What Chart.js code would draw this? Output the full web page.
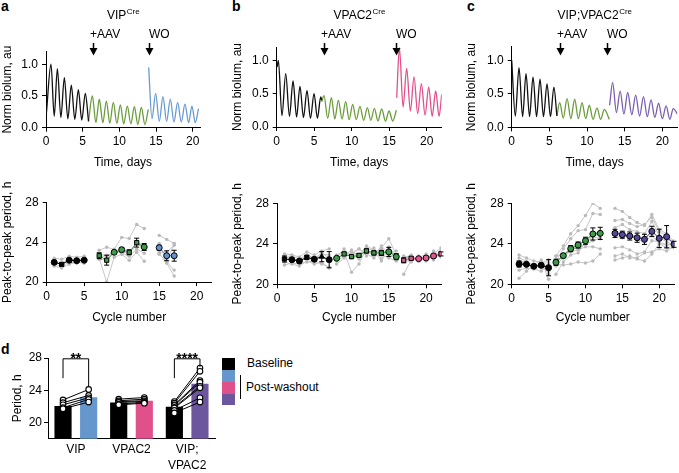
<!DOCTYPE html>
<html lang="en">
<head>
<meta charset="UTF-8">
<title>VIP / VPAC2 rescue of SCN period</title>
<script src="https://cdn.jsdelivr.net/npm/chart.js"></script>
<style>
  body { margin: 0; background: #fff; font-family: "Liberation Sans", Arial, sans-serif; }
  #fig { position: relative; width: 679px; height: 473px; overflow: hidden; }
  #fig canvas, .abs { position: absolute; }
  .letter { font-weight: bold; font-size: 14px; line-height: 14px; }
  .leg { font-size: 12px; line-height: 14px; white-space: nowrap; }
</style>
</head>
<body>
<div id="fig">
  <div class="abs letter" style="left:1px;top:-1px">a</div>
  <div class="abs letter" style="left:232px;top:-1px">b</div>
  <div class="abs letter" style="left:467px;top:-1px">c</div>
  <div class="abs letter" style="left:1px;top:342px">d</div>

  <div class="abs" style="left:222px;top:358px;width:13px;height:12px;background:#000"></div>
  <div class="abs" style="left:222px;top:370px;width:13px;height:12px;background:#6596cc"></div>
  <div class="abs" style="left:222px;top:382px;width:13px;height:12px;background:#e0508a"></div>
  <div class="abs" style="left:222px;top:394px;width:13px;height:11px;background:#6c569e"></div>
  <div class="abs" style="left:240px;top:375px;width:1px;height:24px;background:#000"></div>
  <div class="abs leg" style="left:247px;top:356px">Baseline</div>
  <div class="abs leg" style="left:246px;top:380px">Post-washout</div>
</div>
<script>
// ---------- top row: bioluminescence traces (peaks / troughs, days) ----------
const DAY_TICKS = [0, 5, 10, 15, 20];
const LUM_TICKS = [0, 0.5, 1.0];
const EVENT_LABELS = ['+AAV', 'WO'];

const A_BLACK_DAYS = [0.05, 0.68, 1.12, 1.55, 2.03, 2.5, 2.98, 3.45, 3.93, 4.41, 4.88, 5.36, 5.8];
const A_BLACK_LUM  = [0.22, 1.0, 0.18, 0.93, 0.16, 0.79, 0.14, 0.67, 0.13, 0.6, 0.12, 0.54, 0.1];
const A_GREEN_DAYS = [5.8, 6.32, 6.8, 7.27, 7.75, 8.23, 8.7, 9.18, 9.66, 10.14, 10.6, 11.09, 11.57, 12.05, 12.52, 13.0, 13.48, 13.95];
const A_GREEN_LUM  = [0.1, 0.5, 0.08, 0.45, 0.08, 0.42, 0.07, 0.4, 0.07, 0.36, 0.06, 0.34, 0.06, 0.33, 0.05, 0.32, 0.05, 0.29];
const A_BLUE_DAYS  = [14.0, 14.45, 14.95, 15.45, 15.95, 16.45, 16.95, 17.45, 17.95, 18.45, 18.95, 19.45, 19.9, 20.35, 20.8];
const A_BLUE_LUM   = [0.95, 0.14, 0.54, 0.1, 0.49, 0.1, 0.45, 0.09, 0.4, 0.09, 0.37, 0.08, 0.34, 0.08, 0.3];
const A_EVENTS = [6.4, 14.0];

const B_BLACK_DAYS = [0.05, 0.22, 0.7, 1.2, 1.7, 2.18, 2.65, 3.1, 3.57, 4.04, 4.5, 4.98, 5.43, 5.87, 6.0];
const B_BLACK_LUM  = [0.9, 1.0, 0.17, 0.8, 0.16, 0.69, 0.15, 0.61, 0.14, 0.55, 0.13, 0.5, 0.13, 0.45, 0.4];
const B_GREEN_DAYS = [6.0, 6.31, 6.8, 7.29, 7.75, 8.22, 8.71, 9.2, 9.66, 10.13, 10.61, 11.1, 11.6, 12.09, 12.55, 13.02, 13.5, 14.0, 14.5, 14.98, 15.47, 15.96];
const B_GREEN_LUM  = [0.38, 0.47, 0.13, 0.44, 0.12, 0.4, 0.12, 0.38, 0.11, 0.34, 0.11, 0.31, 0.1, 0.29, 0.1, 0.28, 0.09, 0.27, 0.09, 0.24, 0.09, 0.25];
const B_PINK_DAYS  = [16.0, 16.36, 16.85, 17.33, 17.82, 18.31, 18.8, 19.29, 19.78, 20.27, 20.73, 21.2, 21.65, 22.0];
const B_PINK_LUM   = [0.44, 1.19, 0.3, 0.88, 0.24, 0.75, 0.2, 0.65, 0.18, 0.6, 0.16, 0.54, 0.16, 0.49];
const B_EVENTS = [6.35, 15.9];

const C_BLACK_DAYS  = [0.0, 0.48, 0.97, 1.45, 1.9, 2.37, 2.83, 3.3, 3.76, 4.22, 4.69, 5.15, 5.6, 6.0];
const C_BLACK_LUM   = [1.0, 0.17, 0.89, 0.16, 0.8, 0.16, 0.75, 0.16, 0.72, 0.16, 0.65, 0.16, 0.6, 0.17];
const C_GREEN_DAYS  = [6.0, 6.37, 6.85, 7.35, 7.85, 8.36, 8.85, 9.34, 9.83, 10.31, 10.8, 11.33, 11.8, 12.3, 12.96];
const C_GREEN_LUM   = [0.17, 0.37, 0.14, 0.43, 0.13, 0.42, 0.13, 0.37, 0.13, 0.33, 0.12, 0.29, 0.12, 0.27, 0.12];
const C_PURPLE_DAYS = [13.0, 13.4, 13.9, 14.4, 14.9, 15.4, 15.95, 16.46, 16.98, 17.5, 18.0, 18.5, 19.0, 19.5, 20.0, 20.5, 21.0, 21.45, 22.0];
const C_PURPLE_LUM  = [0.33, 0.67, 0.22, 0.54, 0.2, 0.52, 0.19, 0.48, 0.17, 0.46, 0.16, 0.41, 0.15, 0.36, 0.13, 0.32, 0.12, 0.28, 0.2];
const C_EVENTS = [6.4, 12.65];

// ---------- middle row: peak-to-peak period per cycle ----------
const CYCLE_TICKS = [0, 5, 10, 15, 20];
const PERIOD_TICKS = [20, 24, 28];

const A_CYC_BASE = [1, 2, 3, 4, 5];
const A_MEAN_BASE = [21.98, 21.78, 22.2, 22.15, 22.2];
const A_SEM_BASE = [0.15, 0.15, 0.15, 0.12, 0.12];
const A_GREY_BASE = [
  [22.4, 22.3, 22.6, 22.5, 22.6],
  [21.8, 21.6, 22.0, 21.9, 22.2],
  [21.6, 21.4, 21.8, 22.0, 21.9],
  [22.0, 21.9, 22.3, 22.1, 22.0],
  [22.1, 21.7, 22.3, 22.3, 22.3]
];
const A_CYC_AAV = [7, 8, 9, 10, 11, 12, 13];
const A_MEAN_AAV = [22.65, 22.2, 23.0, 23.26, 23.0, 23.97, 23.53];
const A_SEM_AAV = [0.3, 0.5, 0.15, 0.2, 0.25, 0.45, 0.35];
const A_GREY_AAV = [
  [23.2, 23.5, 23.3, 24.5, 24.4, 25.8, 25.4],
  [22.4, 20.0, 22.5, 22.8, 22.2, 23.0, 22.1],
  [22.6, 22.6, 23.0, 23.0, 22.9, 23.8, 23.5],
  [22.3, 22.2, 23.2, 22.9, 22.6, 23.3, 22.9],
  [22.75, 22.7, 23.0, 23.1, 22.9, 23.95, 23.75]
];
const A_CYC_WO = [15, 16, 17];
const A_MEAN_WO = [23.46, 22.65, 22.65];
const A_SEM_WO = [0.25, 0.5, 0.55];
const A_GREY_WO = [
  [24.7, 24.3, 23.9],
  [23.9, 22.0, 21.2],
  [23.0, 23.0, 23.7],
  [22.9, 21.9, 20.6],
  [22.8, 22.05, 23.85]
];

const B_CYC_BASE = [1, 2, 3, 4, 5, 6, 7];
const B_MEAN_BASE = [22.5, 22.43, 22.3, 22.66, 22.47, 22.73, 22.43];
const B_SEM_BASE = [0.3, 0.15, 0.15, 0.2, 0.15, 0.5, 0.8];
const B_GREY_BASE = [
  [23.0, 22.9, 22.7, 23.2, 22.9, 23.3, 23.5],
  [22.2, 22.0, 21.8, 22.3, 22.0, 22.2, 21.6],
  [22.6, 22.8, 22.5, 22.9, 22.6, 23.0, 22.9],
  [21.9, 22.1, 22.0, 22.2, 22.3, 22.0, 21.7],
  [22.8, 22.4, 22.4, 22.7, 22.5, 23.1, 22.6],
  [22.5, 22.4, 22.4, 22.7, 22.5, 22.8, 22.3]
];
const B_CYC_AAV = [8, 9, 10, 11, 12, 13, 14, 15, 16];
const B_MEAN_AAV = [22.57, 23.0, 22.73, 22.86, 23.3, 23.1, 23.1, 23.2, 22.73];
const B_SEM_AAV = [0.15, 0.15, 0.15, 0.15, 0.2, 0.2, 0.25, 0.45, 0.3];
const B_GREY_AAV = [
  [22.9, 23.2, 21.2, 22.0, 23.6, 23.3, 22.3, 23.5, 22.6],
  [22.0, 22.6, 23.1, 23.5, 23.0, 22.6, 23.6, 24.5, 22.9],
  [22.6, 23.5, 22.6, 22.8, 23.8, 23.4, 22.9, 22.6, 22.3],
  [22.3, 22.8, 23.4, 22.5, 23.3, 22.8, 23.8, 23.0, 23.3],
  [22.8, 23.2, 22.9, 23.5, 22.8, 23.6, 22.5, 23.7, 22.5],
  [22.8, 22.7, 23.2, 22.9, 23.3, 22.9, 23.5, 22.9, 22.8]
];
const B_CYC_WO = [17, 18, 19, 20, 21, 22];
const B_MEAN_WO = [22.37, 22.57, 22.53, 22.6, 22.8, 23.0];
const B_SEM_WO = [0.25, 0.15, 0.1, 0.1, 0.15, 0.2];
const B_GREY_WO = [
  [21.0, 22.4, 22.8, 22.5, 23.0, 23.6],
  [22.6, 22.9, 22.3, 22.8, 22.6, 23.3],
  [22.4, 22.2, 22.7, 22.3, 23.3, 22.7],
  [22.8, 22.6, 22.6, 23.0, 22.4, 23.1],
  [22.3, 22.7, 22.5, 22.4, 22.9, 22.8],
  [22.7, 22.6, 22.3, 22.6, 22.6, 23.3]
];

const C_CYC_BASE = [1, 2, 3, 4, 5];
const C_MEAN_BASE = [22.0, 21.97, 21.78, 21.88, 21.64];
const C_SEM_BASE = [0.3, 0.2, 0.15, 0.2, 0.8];
const C_GREY_BASE = [
  [22.9, 22.6, 22.3, 22.2, 21.0],
  [22.6, 22.3, 21.7, 22.1, 22.4],
  [21.4, 21.6, 21.5, 21.3, 22.1],
  [22.0, 21.8, 21.9, 21.6, 21.3],
  [20.6, 21.3, 21.9, 22.4, 20.5],
  [22.3, 22.2, 21.9, 21.7, 22.0],
  [21.9, 22.1, 21.6, 22.0, 21.4],
  [22.3, 21.9, 21.8, 21.7, 22.4]
];
const C_CYC_AAV = [6, 7, 8, 9, 10, 11, 12];
const C_MEAN_AAV = [22.17, 22.83, 23.52, 23.88, 24.3, 24.97, 25.03];
const C_SEM_AAV = [0.3, 0.2, 0.3, 0.3, 0.35, 0.6, 0.6];
const C_GREY_AAV = [
  [22.8, 23.8, 25.0, 25.8, 26.8, 28.0, 27.5],
  [22.3, 23.5, 24.5, 25.3, 25.4, 27.0, 26.9],
  [21.0, 22.2, 22.9, 23.1, 24.2, 24.8, 25.0],
  [22.5, 22.6, 23.5, 24.0, 24.3, 25.0, 25.2],
  [21.8, 22.7, 23.4, 23.7, 23.9, 24.3, 24.6],
  [22.2, 22.9, 23.6, 23.5, 24.0, 24.7, 24.5],
  [22.0, 21.9, 22.0, 22.2, 22.1, 22.3, 23.0],
  [22.8, 23.0, 23.2, 23.4, 23.7, 23.7, 23.5]
];
const C_CYC_WO = [14, 15, 16, 17, 18, 19, 20, 21, 22];
const C_MEAN_WO = [25.03, 24.9, 24.77, 24.6, 24.44, 25.23, 24.54, 24.7, 23.95];
const C_SEM_WO = [0.4, 0.35, 0.4, 0.45, 0.5, 0.5, 0.9, 1.1, 0.3];
const C_GREY_WO = [
  [27.5, 27.2, 26.6, 26.1, 25.8, 26.9, 25.4, 25.0, 24.2],
  [26.3, 26.4, 26.0, 25.7, 25.9, 26.6, 25.2, 24.8, 24.0],
  [25.6, 25.9, 25.4, 25.2, 25.0, 26.2, 24.8, 24.4, 24.3],
  [25.3, 25.0, 24.9, 24.7, 24.5, 25.3, 24.6, 24.2, 23.9],
  [24.8, 24.6, 24.8, 24.4, 24.2, 24.8, 24.0, 24.0, 23.8],
  [23.6, 23.7, 23.4, 23.0, 23.2, 24.3, 24.2, 23.8, 24.1],
  [22.8, 23.0, 22.6, 22.6, 23.1, 23.2, 23.5, 23.3, 23.7],
  [22.4, 22.6, 22.8, 22.5, 22.3, 23.0, 24.0, 23.6, 23.6]
];

// ---------- panel d: mean period, baseline vs post-washout ----------
const D_GROUPS = ['VIP', 'VPAC2', ['VIP;', 'VPAC2']];
const D_BASELINE = [22.05, 22.5, 21.95];
const D_POST = [23.15, 22.7, 24.8];
const D_PAIRS_BASE = [
  [22.8, 22.46, 22.2, 21.84, 21.7],
  [22.9, 22.7, 22.6, 22.5, 22.3, 22.2],
  [22.6, 22.4, 22.2, 22.1, 21.9, 21.8, 21.5, 21.2]
];
const D_PAIRS_POST = [
  [24.1, 23.36, 23.07, 22.87, 22.54],
  [23.1, 22.9, 22.7, 22.6, 22.5, 22.4],
  [26.76, 26.35, 25.2, 25.0, 24.5, 24.3, 23.07, 22.54]
];
const D_TICKS = [20, 24, 28];
const D_SIG_GROUPS = [0, 2];
const D_SIG_TEXT = ['**', '****'];
const D_SIG_LEGS = [[25.5, 24.5], [25.5, 26.9]];
const D_SIG_TOP = 27.9;

// ---------- colours ----------
const GREEN_TRACE = '#6b9c3c', BLUE_TRACE = '#6a9ad4', PINK_TRACE = '#e2508c', PURPLE_TRACE = '#7a5fae';
const GREEN_MARK = '#3c9a48', BLUE_MARK = '#5f93d3', PINK_MARK = '#e0588f', PURPLE_MARK = '#56489c';
const D_POST_COLORS = ['#6596cc', '#e0508a', '#6c569e'];

const FONT = '"Liberation Sans", Arial, sans-serif';
Chart.defaults.font.family = FONT;
Chart.defaults.font.size = 12;
Chart.defaults.color = '#000';

function makeCanvas(box) {
  const c = document.createElement('canvas');
  c.width = box.w; c.height = box.h;
  c.style.left = box.x + 'px'; c.style.top = box.y + 'px';
  document.getElementById('fig').appendChild(c);
  return c;
}

// padding so that the plot area lands at `area` (page coords)
function pad(box, area, yW, xH) {
  return {
    left: area.l - yW - box.x,
    top: area.t - box.y,
    right: box.x + box.w - area.r,
    bottom: box.y + box.h - area.b - xH
  };
}

function axisX(min, max, ticks, title, xH) {
  return {
    type: 'linear', min: min, max: max, bounds: 'data',
    afterBuildTicks: s => { s.ticks = ticks.map(v => ({ value: v })); },
    afterFit: s => { s.height = xH; },
    border: { color: '#000', width: 1 },
    grid: { drawOnChartArea: false, drawTicks: true, tickLength: 4, color: '#000' },
    ticks: { padding: 3, maxRotation: 0, callback: v => v },
    title: { display: true, text: title, padding: 0 }
  };
}

function axisY(min, max, ticks, fmt, title, yW, tickPad) {
  return {
    type: 'linear', min: min, max: max, bounds: 'data',
    afterBuildTicks: s => { s.ticks = ticks.map(v => ({ value: v })); },
    afterFit: s => { s.width = yW; },
    border: { color: '#000', width: 1 },
    grid: { drawOnChartArea: false, drawTicks: true, tickLength: 4, color: '#000' },
    ticks: { padding: tickPad, callback: fmt },
    title: { display: true, text: title, padding: 0 }
  };
}

// title, +AAV / WO arrows above the traces
const traceAnnot = {
  id: 'traceAnnot',
  afterDraw(chart, args, opts) {
    const { ctx, chartArea, scales: { x } } = chart;
    ctx.save();
    ctx.fillStyle = '#000'; ctx.strokeStyle = '#000';
    ctx.textBaseline = 'middle';
    ctx.font = '12px ' + FONT;
    const mainW = ctx.measureText(opts.title).width;
    ctx.font = '8px ' + FONT;
    const supW = ctx.measureText(opts.sup).width;
    const tx = (chartArea.left + chartArea.right) / 2 - (mainW + supW) / 2;
    ctx.font = '12px ' + FONT;
    ctx.fillText(opts.title, tx, 16);
    ctx.font = '8px ' + FONT;
    ctx.fillText(opts.sup, tx + mainW + 0.5, 11.5);
    ctx.font = '12px ' + FONT;
    opts.events.forEach((d, i) => {
      const px = Math.round(x.getPixelForValue(d)) + 0.5;
      ctx.fillText(EVENT_LABELS[i], px + (i === 0 ? -3.5 : -0.5), 35);
      ctx.lineWidth = 1.5;
      ctx.beginPath(); ctx.moveTo(px, 43); ctx.lineTo(px, 50); ctx.stroke();
      ctx.beginPath(); ctx.moveTo(px - 4, 48); ctx.lineTo(px + 4, 48); ctx.lineTo(px, 55.5); ctx.closePath(); ctx.fill();
    });
    ctx.restore();
  }
};

function traceChart(box, area, yW, xH, xMax, segs, annot) {
  return new Chart(makeCanvas(box), {
    type: 'line',
    data: {
      datasets: segs.map(s => ({
        data: s[0].map((d, i) => ({ x: d, y: s[1][i] })),
        borderColor: s[2], borderWidth: 1.3, pointRadius: 0,
        cubicInterpolationMode: 'monotone', fill: false
      }))
    },
    options: {
      responsive: false, animation: false,
      layout: { padding: pad(box, area, yW, xH) },
      plugins: { legend: { display: false }, tooltip: { enabled: false }, traceAnnot: annot },
      scales: {
        x: axisX(0, xMax, DAY_TICKS, 'Time, days', xH),
        y: axisY(0, 1.2, LUM_TICKS, v => v.toFixed(1), 'Norm biolum, au', yW, 4)
      }
    },
    plugins: [traceAnnot]
  });
}

// SEM bars drawn under the mean markers
const errorBars = {
  id: 'errorBars',
  beforeDatasetDraw(chart, args) {
    const ds = chart.data.datasets[args.index];
    if (!ds.sem) return;
    const { ctx, scales: { y } } = chart;
    ctx.save();
    ctx.strokeStyle = '#000'; ctx.lineWidth = 1;
    args.meta.data.forEach((pt, i) => {
      const v = ds.data[i].y, e = ds.sem[i];
      const y1 = y.getPixelForValue(v - e), y2 = y.getPixelForValue(v + e);
      ctx.beginPath();
      ctx.moveTo(pt.x, y1); ctx.lineTo(pt.x, y2);
      ctx.moveTo(pt.x - 2.5, y1); ctx.lineTo(pt.x + 2.5, y1);
      ctx.moveTo(pt.x - 2.5, y2); ctx.lineTo(pt.x + 2.5, y2);
      ctx.stroke();
    });
    ctx.restore();
  }
};

function greySets(cyc, rows) {
  return rows.map(r => ({
    data: cyc.map((c, i) => ({ x: c, y: r[i] })),
    borderColor: '#c6c6c6', borderWidth: 1,
    pointRadius: 1.7, pointBackgroundColor: '#bababa', pointBorderWidth: 0,
    order: 1
  }));
}

function meanSet(cyc, mean, sem, fill, line, styles) {
  return {
    data: cyc.map((c, i) => ({ x: c, y: mean[i] })),
    sem: sem,
    borderColor: line, borderWidth: 1,
    pointBackgroundColor: fill, pointBorderColor: '#000', pointBorderWidth: 1,
    pointRadius: 3, pointStyle: styles || 'circle',
    order: 0
  };
}

function periodChart(box, area, yW, xH, datasets) {
  return new Chart(makeCanvas(box), {
    type: 'line',
    data: { datasets: datasets },
    options: {
      responsive: false, animation: false,
      layout: { padding: pad(box, area, yW, xH) },
      plugins: { legend: { display: false }, tooltip: { enabled: false } },
      scales: {
        x: axisX(0, 22, CYCLE_TICKS, 'Cycle number', xH),
        y: axisY(20, 28, PERIOD_TICKS, v => v, 'Peak-to-peak period, h', yW, 4)
      }
    },
    plugins: [errorBars]
  });
}

// ---- top row ----
traceChart({ x: 0, y: 0, w: 222, h: 175 }, { l: 46, t: 51.5, r: 200, b: 127.7 }, 46, 42.2, 21,
  [[A_BLACK_DAYS, A_BLACK_LUM, '#111'], [A_GREEN_DAYS, A_GREEN_LUM, GREEN_TRACE], [A_BLUE_DAYS, A_BLUE_LUM, BLUE_TRACE]],
  { title: 'VIP', sup: 'Cre', events: A_EVENTS });
traceChart({ x: 224, y: 0, w: 222, h: 175 }, { l: 276.7, t: 47, r: 441.7, b: 127 }, 45.9, 42.9, 22,
  [[B_BLACK_DAYS, B_BLACK_LUM, '#111'], [B_GREEN_DAYS, B_GREEN_LUM, GREEN_TRACE], [B_PINK_DAYS, B_PINK_LUM, PINK_TRACE]],
  { title: 'VPAC2', sup: 'Cre', events: B_EVENTS });
traceChart({ x: 449, y: 0, w: 230, h: 175 }, { l: 511.7, t: 46.9, r: 677.4, b: 127.4 }, 47.2, 42.5, 22,
  [[C_BLACK_DAYS, C_BLACK_LUM, '#111'], [C_GREEN_DAYS, C_GREEN_LUM, GREEN_TRACE], [C_PURPLE_DAYS, C_PURPLE_LUM, PURPLE_TRACE]],
  { title: 'VIP;VPAC2', sup: 'Cre', events: C_EVENTS });

// ---- middle row ----
periodChart({ x: 0, y: 180, w: 222, h: 146 }, { l: 46.7, t: 202.7, r: 211.7, b: 282 }, 46.7, 42.5, [
  meanSet(A_CYC_BASE, A_MEAN_BASE, A_SEM_BASE, '#000', '#000', ['circle', 'rect', 'circle', 'circle', 'circle']),
  meanSet(A_CYC_AAV, A_MEAN_AAV, A_SEM_AAV, GREEN_MARK, GREEN_MARK, ['rect', 'rect', 'circle', 'circle', 'rect', 'rect', 'circle']),
  meanSet(A_CYC_WO, A_MEAN_WO, A_SEM_WO, BLUE_MARK, BLUE_MARK),
  ...greySets(A_CYC_BASE, A_GREY_BASE), ...greySets(A_CYC_AAV, A_GREY_AAV), ...greySets(A_CYC_WO, A_GREY_WO)
]);
periodChart({ x: 224, y: 180, w: 222, h: 146 }, { l: 277, t: 203.3, r: 442.7, b: 284.3 }, 46.5, 40.2, [
  meanSet(B_CYC_BASE, B_MEAN_BASE, B_SEM_BASE, '#000', '#000', ['rect', 'circle', 'circle', 'rect', 'circle', 'triangle', 'circle']),
  meanSet(B_CYC_AAV, B_MEAN_AAV, B_SEM_AAV, GREEN_MARK, GREEN_MARK, ['circle', 'rect', 'rect', 'rect', 'rect', 'rect', 'rect', 'circle', 'circle']),
  meanSet(B_CYC_WO, B_MEAN_WO, B_SEM_WO, PINK_MARK, PINK_MARK, ['rect', 'rect', 'circle', 'circle', 'circle', 'rect']),
  ...greySets(B_CYC_BASE, B_GREY_BASE), ...greySets(B_CYC_AAV, B_GREY_AAV), ...greySets(B_CYC_WO, B_GREY_WO)
]);
periodChart({ x: 449, y: 180, w: 230, h: 146 }, { l: 511.7, t: 203.3, r: 678.5, b: 284.3 }, 47.2, 40.2, [
  meanSet(C_CYC_BASE, C_MEAN_BASE, C_SEM_BASE, '#000', '#000'),
  meanSet(C_CYC_AAV, C_MEAN_AAV, C_SEM_AAV, GREEN_MARK, GREEN_MARK),
  meanSet(C_CYC_WO, C_MEAN_WO, C_SEM_WO, PURPLE_MARK, PURPLE_MARK),
  ...greySets(C_CYC_BASE, C_GREY_BASE), ...greySets(C_CYC_AAV, C_GREY_AAV), ...greySets(C_CYC_WO, C_GREY_WO)
]);

// ---- panel d ----
const pairsPlugin = {
  id: 'pairs',
  afterDatasetsDraw(chart) {
    const { ctx, scales: { y } } = chart;
    const m0 = chart.getDatasetMeta(0), m1 = chart.getDatasetMeta(1);
    ctx.save();
    ctx.strokeStyle = '#000';
    D_PAIRS_BASE.forEach((bases, g) => {
      const x0 = m0.data[g].x, x1 = m1.data[g].x;
      ctx.lineWidth = 1;
      bases.forEach((b, j) => {
        ctx.beginPath();
        ctx.moveTo(x0, y.getPixelForValue(b));
        ctx.lineTo(x1, y.getPixelForValue(D_PAIRS_POST[g][j]));
        ctx.stroke();
      });
      ctx.lineWidth = 1.1; ctx.fillStyle = '#fff';
      bases.forEach((b, j) => {
        [[x0, b], [x1, D_PAIRS_POST[g][j]]].forEach(p => {
          ctx.beginPath();
          ctx.arc(p[0], y.getPixelForValue(p[1]), 2.8, 0, Math.PI * 2);
          ctx.fill(); ctx.stroke();
        });
      });
    });
    // significance brackets
    ctx.fillStyle = '#000'; ctx.lineWidth = 1;
    D_SIG_GROUPS.forEach((g, k) => {
      const x0 = m0.data[g].x, x1 = m1.data[g].x;
      const yt = y.getPixelForValue(D_SIG_TOP);
      ctx.beginPath();
      ctx.moveTo(x0, y.getPixelForValue(D_SIG_LEGS[k][0]));
      ctx.lineTo(x0, yt); ctx.lineTo(x1, yt);
      ctx.lineTo(x1, y.getPixelForValue(D_SIG_LEGS[k][1]));
      ctx.stroke();
      ctx.font = 'bold 14px ' + FONT;
      ctx.textAlign = 'center'; ctx.textBaseline = 'alphabetic';
      ctx.fillText(D_SIG_TEXT[k], (x0 + x1) / 2, yt + 4);
    });
    ctx.restore();
  }
};

(function () {
  const box = { x: 0, y: 330, w: 222, h: 143 };
  const area = { l: 48, t: 358, r: 215, b: 438.7 };
  const yW = 37.7, xH = 34.3;
  new Chart(makeCanvas(box), {
    type: 'bar',
    data: {
      labels: D_GROUPS,
      datasets: [
        { label: 'Baseline', data: D_BASELINE, backgroundColor: '#000', barPercentage: 0.67, categoryPercentage: 0.92 },
        { label: 'Post-washout', data: D_POST, backgroundColor: D_POST_COLORS, barPercentage: 0.67, categoryPercentage: 0.92 }
      ]
    },
    options: {
      responsive: false, animation: false,
      layout: { padding: pad(box, area, yW, xH) },
      plugins: { legend: { display: false }, tooltip: { enabled: false } },
      scales: {
        x: {
          type: 'category',
          afterFit: s => { s.height = xH; },
          border: { color: '#000', width: 1 },
          grid: { display: true, drawOnChartArea: false, drawTicks: false },
          ticks: { padding: 3, maxRotation: 0, font: { size: 12, lineHeight: 1.35 } }
        },
        y: axisY(18, 28, D_TICKS, v => v, 'Period, h', yW, 2)
      }
    },
    plugins: [pairsPlugin]
  });
})();
</script>
</body>
</html>
